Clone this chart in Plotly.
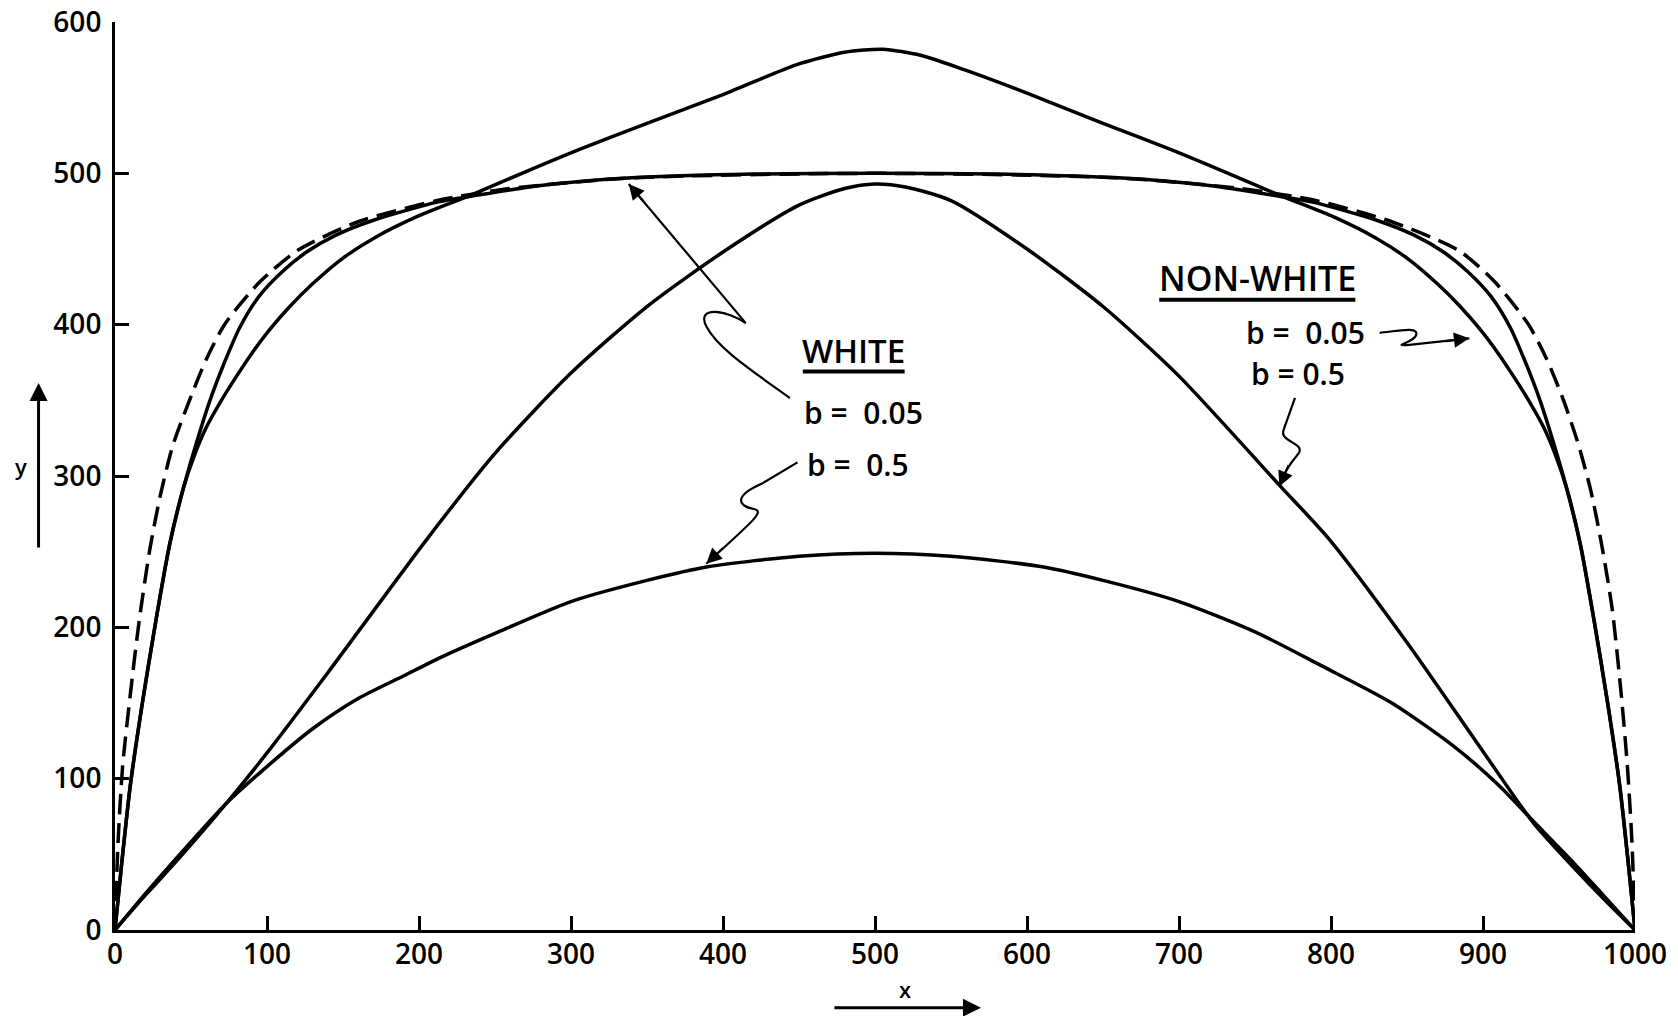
import plotly.graph_objects as go

# ---------------- data ----------------
dashed_x = [0, 2, 5, 10, 16, 23, 30, 38, 49, 60, 72, 95, 120, 160, 212, 260, 340, 500,
            660, 740, 790, 840, 884, 908, 930, 942, 953, 963, 971, 978, 985, 991, 995, 998, 1000]
dashed_y = [0, 58, 108, 155, 205, 252, 288, 320, 350, 377, 400, 428, 449, 468, 482, 490, 497, 500,
            497, 490, 482, 468, 449, 428, 400, 377, 350, 320, 290, 255, 212, 155, 108, 58, 0]

white_b005_x = [0, 4, 10, 18, 27, 36, 45, 53, 62.5, 72, 82, 95, 110, 126, 145, 170, 212, 235, 280,
                340, 420, 500, 580, 660, 720, 765, 788, 830, 855, 874, 890, 905, 918, 928, 937.5,
                947, 955, 964, 973, 982, 990, 996, 1000]
white_b005_y = [0, 40, 95, 150, 205, 255, 292, 320, 350, 375, 398, 419, 435, 448, 459, 469, 481, 485,
                492, 497, 499.5, 500, 499.5, 497, 492, 485, 481, 469, 459, 448, 435, 419, 398, 375,
                350, 320, 292, 255, 205, 150, 95, 40, 0]

nonwhite_b005_x = [0, 4, 10, 18, 27, 36, 45, 52, 60, 70, 80, 90, 102, 115, 130, 150, 170, 200, 235,
                   270, 306, 350, 400, 449, 480, 505, 530, 560, 600, 650, 694, 730, 765, 800, 830,
                   850, 870, 885, 898, 910, 920, 930, 940, 948, 955, 964, 973, 982, 990, 996, 1000]
nonwhite_b005_y = [0, 40, 95, 150, 205, 255, 292, 313, 332, 350, 366, 381, 397, 412, 427, 444, 457,
                   472, 486, 501, 516, 533, 552, 572, 580, 582, 578, 568, 553, 533, 516, 501, 486,
                   472, 457, 444, 427, 412, 397, 381, 366, 350, 332, 313, 292, 255, 205, 150, 95,
                   40, 0]

nonwhite_b05_x = [0, 20, 40, 73.5, 100, 140, 205, 250, 300, 350, 400, 450, 480, 500, 520, 550, 600,
                  650, 700, 766, 799, 850, 900, 933, 960, 980, 1000]
nonwhite_b05_y = [0, 23, 45, 84, 117, 170, 258, 315, 368, 412, 448, 479, 490, 493, 491, 482, 450,
                  412, 366, 294, 258, 190, 118, 71, 41, 20, 0]

white_b05_x = [0, 20, 40, 73.5, 100, 130, 160, 190, 214, 250, 300, 350, 390, 450, 500, 550, 610,
               650, 700, 750, 793, 840, 880, 910, 933, 960, 980, 1000]
white_b05_y = [0, 24, 47, 84, 108, 133, 153, 168, 180, 196, 217, 231, 240, 247, 249, 247, 240,
               231, 217, 197, 175, 150, 122, 96, 72, 44, 22, 0]

x_ticks = [0, 100, 200, 300, 400, 500, 600, 700, 800, 900, 1000]
y_ticks = [0, 100, 200, 300, 400, 500, 600]

# ---------------- figure ----------------
FONT = "Open Sans"
LW = 3.5
SM = 0.7
fig = go.Figure()

fig.add_trace(go.Scatter(x=dashed_x, y=dashed_y, mode="lines",
                         line=dict(color="black", width=LW, dash="20px,9px", shape="spline", smoothing=SM),
                         hoverinfo="skip", showlegend=False))
for xs, ys in [(white_b005_x, white_b005_y), (nonwhite_b005_x, nonwhite_b005_y),
               (nonwhite_b05_x, nonwhite_b05_y), (white_b05_x, white_b05_y)]:
    fig.add_trace(go.Scatter(x=xs, y=ys, mode="lines",
                             line=dict(color="black", width=LW, shape="spline", smoothing=SM),
                             hoverinfo="skip", showlegend=False))

shapes = []
# squiggly leader lines (data coordinates)
paths = [
    "M 338 493 L 415 401 C 403 409.5 382 413 389 399 C 396 385 417 371 444 351.5",
    "M 449 309 L 425.7 295 C 410 288 406.7 281 420.8 278 C 428 276.5 417 268 389 242",
    "M 832 394.6 C 845 396 858 399 856 393 C 854 388 840 386 850 386.5 L 891 391",
    "M 776.3 351.6 L 769 331 C 765 322 785 322 778 314 C 772 307 768 300 766 293",
]
for p in paths:
    shapes.append(dict(type="path", path=p, xref="x", yref="y",
                       line=dict(color="black", width=2.2)))
# underlines of the group titles
shapes.append(dict(type="line", xref="x", yref="y", x0=452.5, x1=519.5, y0=369, y1=369,
                   line=dict(color="black", width=4)))
shapes.append(dict(type="line", xref="x", yref="y", x0=687, x1=816, y0=416.5, y1=416.5,
                   line=dict(color="black", width=4)))

ann = []
def label(txt, x, y, anchor="left", size=30):
    ann.append(dict(text=txt, x=x, y=y, xref="x", yref="y", showarrow=False,
                    xanchor=anchor, yanchor="middle",
                    font=dict(family=FONT, size=size, color="black", weight=600)))

label("WHITE", 486, 383, anchor="center", size=33)
label("b =  0.05", 452, 342)
label("b =  0.5", 454, 307.5)
label("NON-WHITE", 751.5, 431, anchor="center", size=34)
label("b =  0.05", 742.5, 394.6)
label("b = 0.5", 746, 368)

# arrow heads
for (x, y, ax, ay) in [(338, 493, 16, 19), (389, 242, 18, -17), (891, 391, -25, 3), (766, 293, 10, -23)]:
    ann.append(dict(x=x, y=y, xref="x", yref="y", text="", showarrow=True,
                    ax=ax, ay=ay, arrowhead=2, arrowsize=1.4, arrowwidth=2.2, arrowcolor="black"))

# axis titles with arrows
ann.append(dict(text="y", x=-0.067, y=0.5105, xref="paper", yref="paper", showarrow=False,
                font=dict(family=FONT, size=22, color="black", weight=600)))
ann.append(dict(x=-0.0503, y=0.6025, xref="paper", yref="paper", text="", showarrow=True,
                ax=0, ay=166, arrowhead=2, arrowsize=1.2, arrowwidth=3, arrowcolor="black"))
ann.append(dict(text="x", x=0.52, y=-0.0836, xref="paper", yref="paper", showarrow=False,
                font=dict(family=FONT, size=22, color="black", weight=600)))
ann.append(dict(x=0.5697, y=-0.0855, xref="paper", yref="paper", text="", showarrow=True,
                ax=-148, ay=0, arrowhead=2, arrowsize=1.2, arrowwidth=3, arrowcolor="black"))

axis_common = dict(showline=True, linecolor="black", linewidth=3, ticks="inside", ticklen=14,
                   tickwidth=3, tickcolor="black", showgrid=False, zeroline=False,
                   automargin=False,
                   tickfont=dict(family=FONT, size=28, color="black", weight=600))

fig.update_layout(
    width=1678, height=1016,
    margin=dict(l=115, r=43, t=22, b=86),
    paper_bgcolor="white", plot_bgcolor="white",
    shapes=shapes, annotations=ann,
    xaxis=dict(range=[0, 1000], tickvals=x_ticks, ticktext=[str(v) for v in x_ticks],
               ticklabelstandoff=-3, **axis_common),
    yaxis=dict(range=[0, 600], tickvals=y_ticks, ticktext=[str(v) for v in y_ticks],
               ticklabelstandoff=5, **axis_common),
)

fig.write_html("out.html")
